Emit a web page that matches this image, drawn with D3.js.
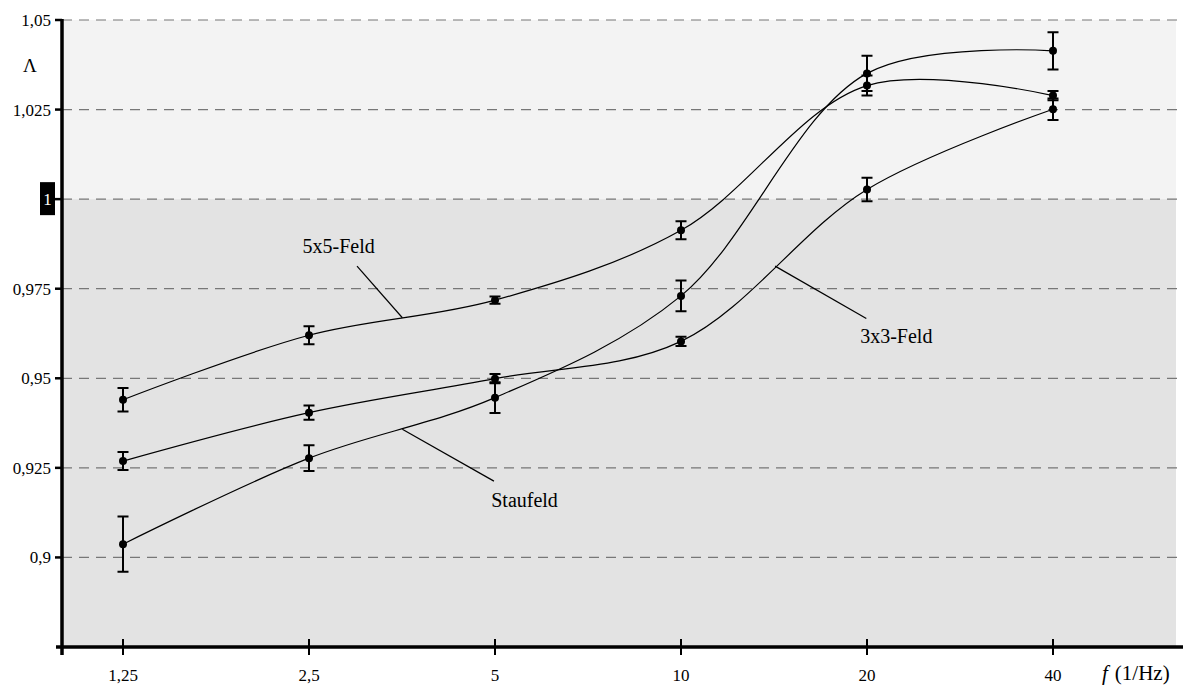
<!DOCTYPE html>
<html>
<head>
<meta charset="utf-8">
<script src="https://cdn.jsdelivr.net/npm/d3@7"></script>
<style>
  body { margin: 0; background: #fff; }
</style>
</head>
<body>
<div id="chart"></div>
<script>
// frequencies (x) and tick labels
const freqs = [1.25, 2.5, 5, 10, 20, 40]
const freqLabels = ["1,25", "2,5", "5", "10", "20", "40"]

const yTicks = [0.9, 0.925, 0.95, 0.975, 1, 1.025, 1.05]
const yTickLabels = ["0,9", "0,925", "0,95", "0,975", "1", "1,025", "1,05"]

// series values and error (+/-)
const stau = [0.9037, 0.9277, 0.9446, 0.9730, 1.0351, 1.0414]
const stauErr = [0.0077, 0.0036, 0.0043, 0.0043, 0.0049, 0.0052]

const feld5 = [0.9440, 0.9620, 0.9718, 0.9913, 1.0317, 1.0289]
const feld5Err = [0.0033, 0.0025, 0.0010, 0.0025, 0.0028, 0.0013]

const feld3 = [0.9269, 0.9404, 0.9499, 0.9603, 1.0027, 1.0251]
const feld3Err = [0.0025, 0.0020, 0.0013, 0.0013, 0.0033, 0.0030]

// annotation: label pos, line start, anchor on curve (data coords)
const labels = [
  {text: "5x5-Feld", tf: 2.44, tv: 0.9850, lf: 2.99, lv: 0.9813, af: 3.54, av: 0.9669},
  {text: "Staufeld", tf: 4.93, tv: 0.9141, lf: 4.98, lv: 0.9213, af: 3.54, av: 0.9358},
  {text: "3x3-Feld", tf: 19.5, tv: 0.9598, lf: 19.95, lv: 0.9667, af: 14.2, av: 0.9813}
]

const FONT = '"Liberation Serif", "Times New Roman", Times, "DejaVu Serif", serif'
const W = 1195, H = 686
const svg = d3.select("#chart").append("svg")
  .attr("width", W).attr("height", H)
  .attr("font-family", FONT)

const x = d3.scaleLog().base(2).domain([1.25, 40]).range([123, 1053])
const y = d3.scaleLinear().domain([0.875, 1.05]).range([647, 20])

const left = 62, right = 1176

// background bands
svg.append("rect")
  .attr("x", left).attr("y", y(1.05))
  .attr("width", right - left).attr("height", y(1) - y(1.05))
  .attr("fill", "#f3f3f3")
svg.append("rect")
  .attr("x", left).attr("y", y(1))
  .attr("width", right - left).attr("height", y(0.875) - y(1))
  .attr("fill", "#e3e3e3")

// dashed grid
svg.append("g").selectAll("line")
  .data(yTicks)
  .enter().append("line")
    .attr("x1", left).attr("x2", 1183)
    .attr("y1", d => y(d)).attr("y2", d => y(d))
    .attr("stroke", "#777")
    .attr("stroke-width", 1.2)
    .attr("stroke-dasharray", "10,7")

// curves
const line = d3.line()
  .x((d, i) => x(freqs[i]))
  .y(d => y(d))
  .curve(d3.curveCatmullRom.alpha(0.5))

const series = [
  {vals: stau, err: stauErr},
  {vals: feld5, err: feld5Err},
  {vals: feld3, err: feld3Err}
]

series.forEach(function(s) {
  svg.append("path")
    .datum(s.vals)
    .attr("d", line)
    .attr("fill", "none")
    .attr("stroke", "#000")
    .attr("stroke-width", 1.2)

  const g = svg.append("g")
  const pts = s.vals.map((v, i) => ({f: freqs[i], v: v, e: s.err[i]}))
  // error bars
  g.selectAll(".eb").data(pts).enter().append("path")
    .attr("d", d => {
      const cx = x(d.f), y1 = y(d.v + d.e), y2 = y(d.v - d.e)
      return `M${cx},${y1}V${y2}M${cx - 5.5},${y1}H${cx + 5.5}M${cx - 5.5},${y2}H${cx + 5.5}`
    })
    .attr("fill", "none")
    .attr("stroke", "#000")
    .attr("stroke-width", 2)
  g.selectAll("circle").data(pts).enter().append("circle")
    .attr("cx", d => x(d.f))
    .attr("cy", d => y(d.v))
    .attr("r", 4)
    .attr("fill", "#000")
})

// annotations
labels.forEach(function(l) {
  svg.append("line")
    .attr("x1", x(l.lf)).attr("y1", y(l.lv))
    .attr("x2", x(l.af)).attr("y2", y(l.av))
    .attr("stroke", "#000").attr("stroke-width", 1.2)
  svg.append("text")
    .attr("x", x(l.tf)).attr("y", y(l.tv))
    .attr("font-family", FONT)
    .attr("font-size", 20)
    .text(l.text)
})

// y axis
svg.append("line")
  .attr("x1", left).attr("x2", left)
  .attr("y1", y(1.05) - 1).attr("y2", 655)
  .attr("stroke", "#000").attr("stroke-width", 3.5)

const yt = svg.append("g").selectAll("g")
  .data(yTicks)
  .enter().append("g")
  .attr("transform", d => `translate(0,${y(d)})`)
yt.append("line")
  .attr("x1", 55).attr("x2", left)
  .attr("stroke", "#000").attr("stroke-width", 2.5)
yt.filter(d => d === 1).append("rect")
  .attr("x", 40).attr("y", -17).attr("width", 15).attr("height", 33)
  .attr("fill", "#000")
yt.append("text")
  .attr("x", (d) => d === 1 ? 47.5 : 51)
  .attr("dy", "0.35em")
  .attr("text-anchor", d => d === 1 ? "middle" : "end")
  .attr("font-family", FONT)
  .attr("font-size", 17)
  .attr("fill", d => d === 1 ? "#fff" : "#000")
  .text((d, i) => yTickLabels[i])

svg.append("text")
  .attr("x", 30).attr("y", 72)
  .attr("text-anchor", "middle")
  .attr("font-family", FONT)
  .attr("font-size", 19)
  .text("Λ")

// x axis
svg.append("line")
  .attr("x1", 56).attr("x2", 1183)
  .attr("y1", 647).attr("y2", 647)
  .attr("stroke", "#000").attr("stroke-width", 3.5)

const xt = svg.append("g").selectAll("g")
  .data(freqs)
  .enter().append("g")
  .attr("transform", d => `translate(${x(d)},0)`)
xt.append("line")
  .attr("y1", 639).attr("y2", 655)
  .attr("stroke", "#000").attr("stroke-width", 2)
xt.append("text")
  .attr("y", 681)
  .attr("text-anchor", "middle")
  .attr("font-family", FONT)
  .attr("font-size", 17)
  .text((d, i) => freqLabels[i])

const xl = svg.append("text")
  .attr("x", 1102).attr("y", 680)
  .attr("font-family", FONT)
  .attr("font-size", 21)
xl.append("tspan").attr("font-style", "italic").text("f")
xl.append("tspan").attr("dx", 7).text("(1/Hz)")
</script>
</body>
</html>
